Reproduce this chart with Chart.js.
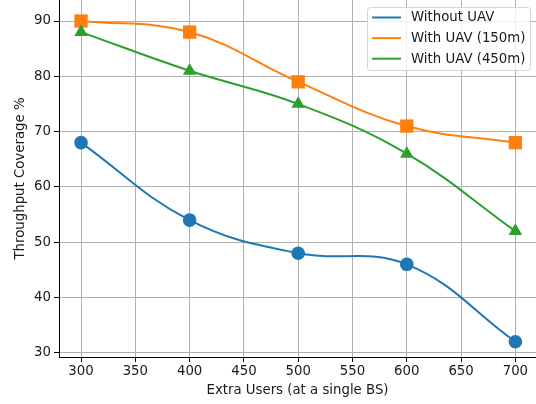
<!DOCTYPE html>
<html lang="en">
<head>
    <meta charset="UTF-8">
    <title>Throughput Coverage</title>
    <script src="https://cdn.jsdelivr.net/npm/chart.js"></script>
    <style>
        html, body {
            margin: 0;
            padding: 0;
            background: #ffffff;
        }
        #wrap {
            width: 536px;
            height: 404px;
        }
    </style>
</head>
<body>
    <div id="wrap">
        <canvas id="chartCanvas" width="536" height="404"></canvas>
    </div>

    <script>
        // data
        const users = [300, 400, 500, 600, 700];
        const withoutUav = [68, 54, 48, 46, 32];
        const withUav150 = [90, 88, 79, 71, 68];
        const withUav450 = [88, 81, 75, 66, 52];

        const xTicks = [300, 350, 400, 450, 500, 550, 600, 650, 700];
        const yTicks = [30, 40, 50, 60, 70, 80, 90];

        const seriesNames = ['Without UAV', 'With UAV (150m)', 'With UAV (450m)'];
        const colors = ['#1f77b4', '#ff7f0e', '#2ca02c'];

        const FONT = 'DejaVu Sans';
        const FS = 13.3;

        const toPoints = (ys) => users.map((x, i) => ({ x: x, y: ys[i] }));

        // boxed legend, drawn like matplotlib does it
        const legendBoxPlugin = {
            id: 'legendBox',
            afterDraw(chart) {
                const { ctx } = chart;
                ctx.save();
                const bx = 367.5, by = 7.5, bw = 163, bh = 63, r = 3;
                ctx.beginPath();
                ctx.moveTo(bx + r, by);
                ctx.arcTo(bx + bw, by, bx + bw, by + bh, r);
                ctx.arcTo(bx + bw, by + bh, bx, by + bh, r);
                ctx.arcTo(bx, by + bh, bx, by, r);
                ctx.arcTo(bx, by, bx + bw, by, r);
                ctx.closePath();
                ctx.fillStyle = 'rgba(255,255,255,0.8)';
                ctx.fill();
                ctx.strokeStyle = 'rgba(204,204,204,0.8)';
                ctx.lineWidth = 1;
                ctx.stroke();

                ctx.font = FS + 'px "' + FONT + '"';
                ctx.textBaseline = 'middle';
                ctx.textAlign = 'left';
                seriesNames.forEach((name, i) => {
                    const y = 17.5 + i * 20.6;
                    ctx.strokeStyle = colors[i];
                    ctx.lineWidth = 2;
                    ctx.beginPath();
                    ctx.moveTo(372, y);
                    ctx.lineTo(401, y);
                    ctx.stroke();
                    ctx.fillStyle = '#1a1a1a';
                    ctx.fillText(name, 411, y + 0.5);
                });
                ctx.restore();
            }
        };

        const makeSet = (label, ys, color, style, radius, order) => ({
            label: label,
            data: toPoints(ys),
            borderColor: color,
            backgroundColor: color,
            borderWidth: 2,
            tension: 0.4,
            pointStyle: style,
            pointRadius: radius,
            pointHoverRadius: radius,
            pointBorderWidth: 0,
            fill: false,
            order: order
        });

        new Chart(document.getElementById('chartCanvas'), {
            type: 'line',
            data: {
                datasets: [
                    makeSet(seriesNames[0], withoutUav, colors[0], 'circle', 6.8, 2),
                    makeSet(seriesNames[1], withUav150, colors[1], 'rect', 9.4, 1),
                    makeSet(seriesNames[2], withUav450, colors[2], 'triangle', 7.8, 0)
                ]
            },
            options: {
                responsive: false,
                animation: false,
                layout: { autoPadding: false, padding: 0 },
                plugins: {
                    legend: { display: false },
                    tooltip: { enabled: false }
                },
                scales: {
                    x: {
                        type: 'linear',
                        min: 279.7,
                        max: 719,
                        afterBuildTicks: (scale) => { scale.ticks = xTicks.map(v => ({ value: v })); },
                        afterFit: (scale) => {
                            scale.height = 47;
                            scale.paddingLeft = 0;
                            scale.paddingRight = 0;
                        },
                        grid: {
                            color: '#b0b0b0',
                            lineWidth: 1,
                            tickColor: '#000000',
                            tickLength: 5
                        },
                        border: { color: '#000000', width: 1 },
                        ticks: {
                            color: '#1a1a1a',
                            padding: 2,
                            maxRotation: 0,
                            font: { family: FONT, size: FS }
                        },
                        title: {
                            display: true,
                            text: 'Extra Users (at a single BS)',
                            color: '#1a1a1a',
                            padding: { top: 0, bottom: 5 },
                            font: { family: FONT, size: FS }
                        }
                    },
                    y: {
                        min: 29.24,
                        max: 93.8,
                        afterBuildTicks: (scale) => { scale.ticks = yTicks.map(v => ({ value: v })); },
                        afterFit: (scale) => {
                            scale.width = 59;
                            scale.paddingTop = 0;
                            scale.paddingBottom = 0;
                        },
                        grid: {
                            color: '#b0b0b0',
                            lineWidth: 1,
                            tickColor: '#000000',
                            tickLength: 5
                        },
                        border: { color: '#000000', width: 1 },
                        ticks: {
                            color: '#1a1a1a',
                            padding: 3,
                            font: { family: FONT, size: FS }
                        },
                        title: {
                            display: true,
                            text: 'Throughput Coverage %',
                            color: '#1a1a1a',
                            padding: { top: 13, bottom: 0 },
                            font: { family: FONT, size: FS }
                        }
                    }
                }
            },
            plugins: [legendBoxPlugin]
        });
    </script>
</body>
</html>
